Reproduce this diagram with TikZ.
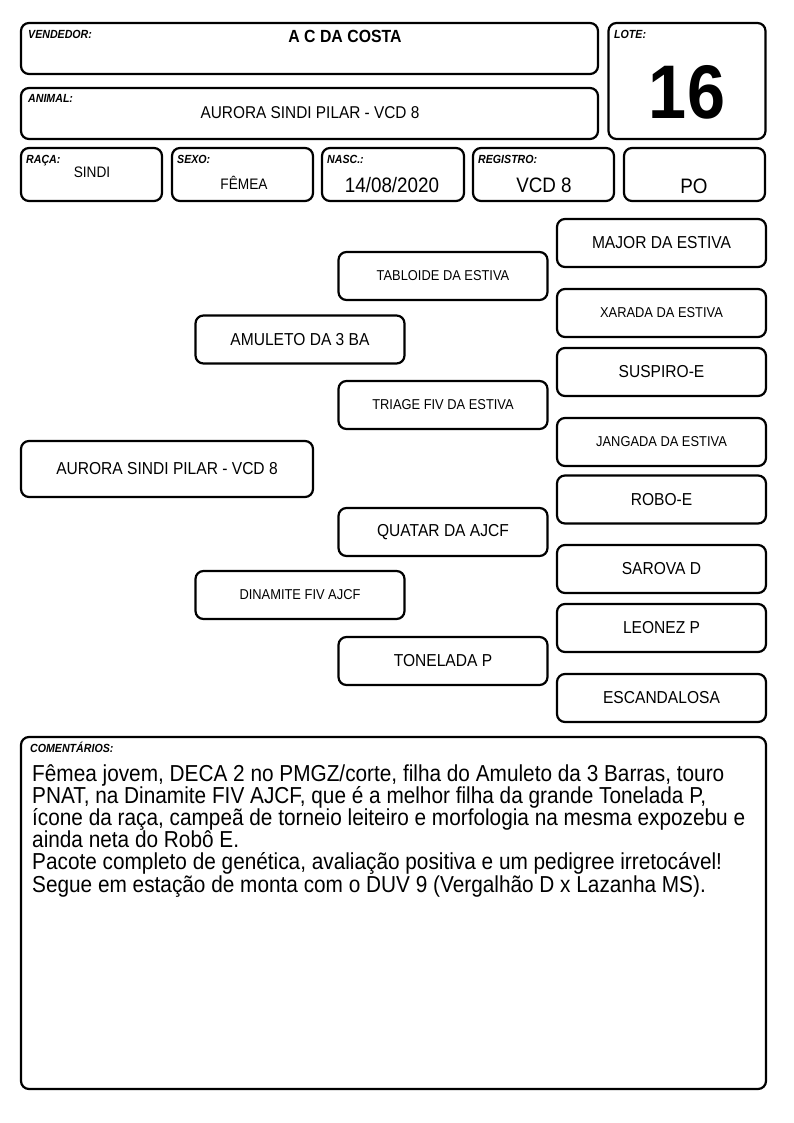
\documentclass[tikz,border=0pt]{standalone}
\usepackage{fontspec}
\setmainfont[FakeStretch=0.9]{Liberation Sans}
\begin{document}
\begin{tikzpicture}[x=1pt,y=-1pt,
  box/.style={draw=black, line width=2.2pt, rounded corners=8pt, fill=white, inner sep=0pt},
  lab/.style={anchor=base west, inner sep=0pt, font=\fontsize{11.8}{13}\selectfont\bfseries\itshape},
  val/.style={anchor=base, inner sep=0pt},
  big/.style={font=\fontsize{17.3}{20}\selectfont},
  sml/.style={font=\fontsize{14.3}{16}\selectfont},
  ped/.style={box, minimum width=209pt, minimum height=48pt},
]
\useasboundingbox (0,0) rectangle (794,1123);
\fill[white] (0,0) rectangle (794,1123);

% header boxes
\node[box, minimum width=577pt, minimum height=51pt] (vend) at (309.5,48.5) {};
\node[box, minimum width=577pt, minimum height=51pt] (anim) at (309.5,113.5) {};
\node[box, minimum width=157pt, minimum height=116pt] (lote) at (687,81) {};
\node[box, minimum width=141pt, minimum height=53pt] (raca) at (91.5,174.5) {};
\node[box, minimum width=141pt, minimum height=53pt] (sexo) at (242.5,174.5) {};
\node[box, minimum width=142pt, minimum height=53pt] (nasc) at (393,174.5) {};
\node[box, minimum width=141pt, minimum height=53pt] (regi) at (543.5,174.5) {};
\node[box, minimum width=141pt, minimum height=53pt] (pobx) at (694.5,174.5) {};

% labels
\node[lab] (lvend) at (28,39) {VENDEDOR:};
\node[lab] (lanim) at (28,103) {ANIMAL:};
\node[lab] (llote) at (614,39) {LOTE:};
\node[lab] (lraca) at (26,164) {RAÇA:};
\node[lab] (lsexo) at (177,164) {SEXO:};
\node[lab] (lnasc) at (327,164) {NASC.:};
\node[lab] (lregi) at (478,164) {REGISTRO:};

% values
\node[val, font=\fontsize{17.6}{20}\selectfont\bfseries] (tvend) at (345,43) {A C DA COSTA};
\node[val, font=\fontsize{17.1}{20}\selectfont] (tanim) at (310,119) {AURORA SINDI PILAR - VCD 8};
\node[val, font=\fontsize{76}{84}\selectfont\bfseries] (tlote) at (687,119) {16};
\node[val, font=\fontsize{15.2}{18}\selectfont] (traca) at (92,178) {SINDI};
\node[val, font=\fontsize{15.2}{18}\selectfont] (tsexo) at (244,190) {FÊMEA};
\node[val, font=\fontsize{20.9}{24}\selectfont] (tnasc) at (392,193) {14/08/2020};
\node[val, font=\fontsize{20.9}{24}\selectfont] (tregi) at (544,193) {VCD 8};
\node[val, font=\fontsize{20.9}{24}\selectfont] (tpobx) at (694,194) {PO};

% pedigree
\node[box, big, minimum width=292pt, minimum height=56pt] (aurora) at (167,469) {AURORA SINDI PILAR - VCD 8};
\node[ped, big] (amuleto) at (300,339.5) {AMULETO DA 3 BA};
\node[ped, sml] (dinamite) at (300,595) {DINAMITE FIV AJCF};
\node[ped, sml] (tabloide) at (443,276) {TABLOIDE DA ESTIVA};
\node[ped, sml] (triage) at (443,405) {TRIAGE FIV DA ESTIVA};
\node[ped, big] (quatar) at (443,532) {QUATAR DA AJCF};
\node[ped, big] (tonelada) at (443,661) {TONELADA P};
\node[ped, big] (major) at (661.5,243) {MAJOR DA ESTIVA};
\node[ped, sml] (xarada) at (661.5,313) {XARADA DA ESTIVA};
\node[ped, big] (suspiro) at (661.5,372) {SUSPIRO-E};
\node[ped, sml] (jangada) at (661.5,442) {JANGADA DA ESTIVA};
\node[ped, big] (robo) at (661.5,499.5) {ROBO-E};
\node[ped, big] (sarova) at (661.5,569) {SAROVA D};
\node[ped, big] (leonez) at (661.5,628) {LEONEZ P};
\node[ped, big] (escand) at (661.5,698) {ESCANDALOSA};

% comments
\node[box, minimum width=745pt, minimum height=352pt] (coment) at (393.5,913) {};
\node[lab] (lcoment) at (30,752) {COMENTÁRIOS:};
\node[anchor=base west, inner sep=0pt, align=left, font=\fontsize{23.1}{22.2}\selectfont] (tcoment) at (32,892) {Fêmea jovem, DECA 2 no PMGZ/corte, filha do Amuleto da 3 Barras, touro\\PNAT, na Dinamite FIV AJCF, que é a melhor filha da grande Tonelada P,\\ícone da raça, campeã de torneio leiteiro e morfologia na mesma expozebu e\\ainda neta do Robô E.\\Pacote completo de genética, avaliação positiva e um pedigree irretocável!\\Segue em estação de monta com o DUV 9 (Vergalhão D x Lazanha MS).};
\end{tikzpicture}
\end{document}
